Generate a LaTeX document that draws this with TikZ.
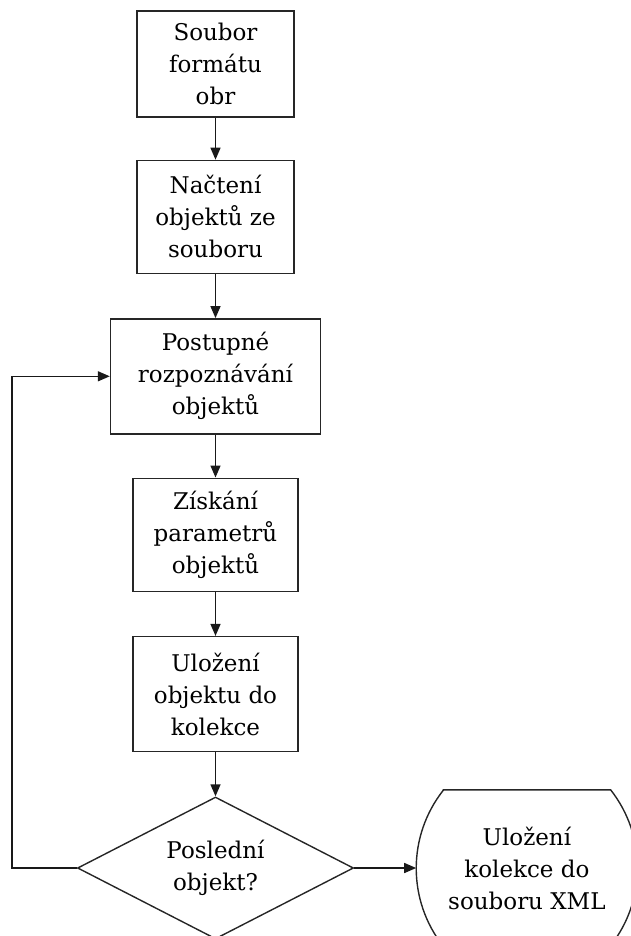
\documentclass[tikz,border=0pt]{standalone}
\usepackage{fontspec}
\setmainfont{DejaVu Serif}
\usetikzlibrary{arrows.meta, positioning, shapes.geometric}

\begin{document}
\begin{tikzpicture}[
    x=1pt, y=1pt,
    >={Triangle[length=12pt, width=10pt]},
    every node/.style={inner sep=3pt},
    proc/.style={rectangle, draw=black!85, line width=1.4pt,
                 minimum width=165pt, minimum height=113pt,
                 align=center, font=\fontsize{23}{32}\selectfont},
    decision/.style={diamond, draw=black!85, line width=1.4pt,
                     minimum width=276pt, minimum height=142pt, aspect=1.94,
                     align=center, inner sep=0pt,
                     font=\fontsize{23}{32}\selectfont},
    terminal/.style={rectangle, minimum width=167pt, minimum height=156pt,
                     align=center, font=\fontsize{23}{32}\selectfont},
    outline/.style={draw=black!85, line width=1.4pt},
    arr/.style={->, line width=1.4pt, color=black!90}
]
\useasboundingbox (0,0) rectangle (630,-936);

% --- Nodes --------------------------------------------------------------
\node[proc, minimum width=157pt, minimum height=106pt] (file)  at (215.5,-64)
      {Soubor\\formátu\\obr};
\node[proc, minimum width=157pt, below=42pt of file]   (load)  {Načtení\\objektů ze\\souboru};
\node[proc, minimum width=210pt, minimum height=115pt,
      below=44pt of load]                               (recog) {Postupné\\rozpoznávání\\objektů};
\node[proc, below=43pt of recog]                        (param) {Získání\\parametrů\\objektů};
\node[proc, minimum height=115pt, below=44pt of param]  (store) {Uložení\\objektu do\\kolekce};
\node[decision, below=44pt of store]                    (last)  {Poslední\\objekt?};
\node[terminal, right=89pt of last]                     (xml)   {Uložení\\kolekce do\\souboru XML};

% terminal outline with curved ends
\draw[outline] (xml.north west) -- (xml.north east)
    arc[start angle=38.2, end angle=-38.2, radius=126pt]
    -- (xml.south west)
    arc[start angle=218.2, end angle=141.8, radius=126pt] -- cycle;
\coordinate (xmlin) at ([xshift=-27pt]xml.west);

% --- Flow ---------------------------------------------------------------
\draw[arr] (file)  -- (load);
\draw[arr] (load)  -- (recog);
\draw[arr] (recog) -- (param);
\draw[arr] (param) -- (store);
\draw[arr] (store) -- (last);
\draw[arr] (last)  -- (xmlin);

% loop back to recognition
\coordinate (back) at ([xshift=-65pt]last.west);
\draw[arr] (last.west) -- (back) |- (recog.west);

\end{tikzpicture}
\end{document}
